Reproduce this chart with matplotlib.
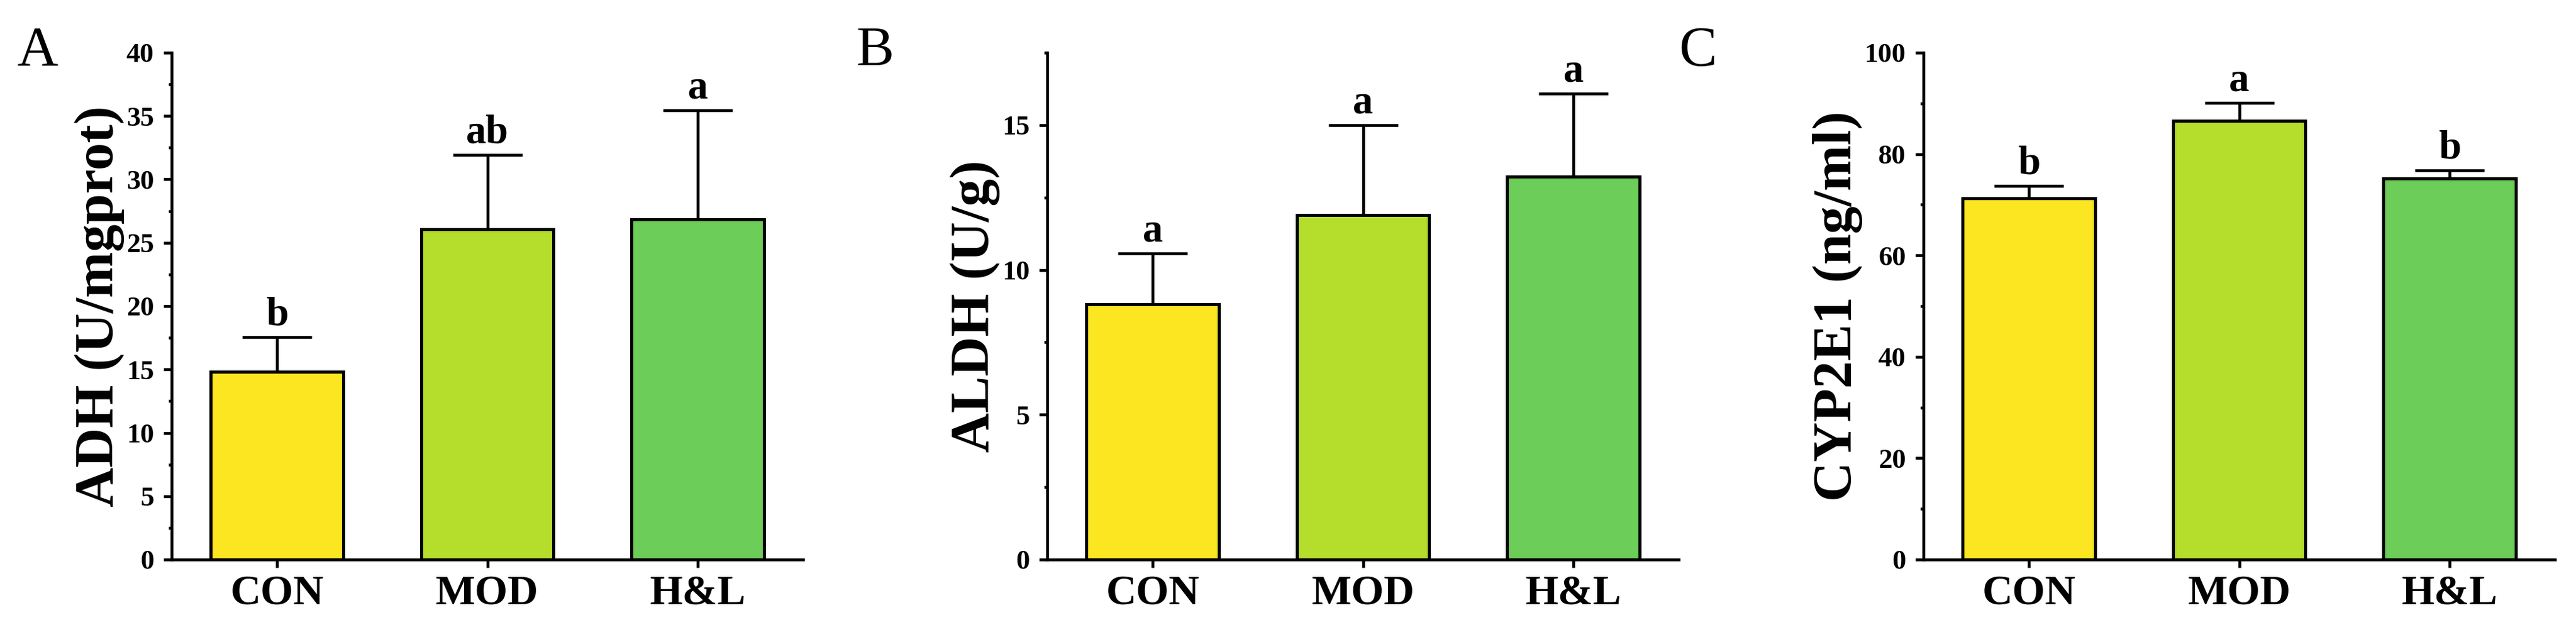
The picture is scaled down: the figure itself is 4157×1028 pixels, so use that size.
import numpy as np
import matplotlib
matplotlib.use("Agg")
import matplotlib.pyplot as plt
from matplotlib.ticker import MultipleLocator

plt.rcParams['font.family'] = ['Liberation Serif', 'DejaVu Serif']

groups = ["CON", "MOD", "H&L"]
colors = ["#FCE622", "#B4DE2B", "#6CCD59"]

# values (mean and upper error)
adh = [14.84, 26.06, 26.83]
adh_err = [2.72, 5.86, 8.62]
adh_sig = ["b", "ab", "a"]

aldh = [8.82, 11.90, 13.23]
aldh_err = [1.74, 3.09, 2.85]
aldh_sig = ["a", "a", "a"]

cyp = [71.3, 86.55, 75.2]
cyp_err = [2.45, 3.5, 1.55]
cyp_sig = ["b", "a", "b"]

panels = [
    ("A", adh, adh_err, adh_sig, "ADH (U/mgprot)", 40, 5, 2.5),
    ("B", aldh, aldh_err, aldh_sig, "ALDH (U/g)", 17.5, 5, 2.5),
    ("C", cyp, cyp_err, cyp_sig, "CYP2E1 (ng/ml)", 100, 20, 10),
]

W, H = 4157, 1028
fig = plt.figure(figsize=(W / 100, H / 100), dpi=100)

ax_left_px = [277, 1690, 3104]
ax_w_px = 1019
ax_top_px, ax_bot_px = 85, 903
letter_x_px = [27, 1381, 2709]

for k, (letter, vals, errs, sig, ylab, ymax, major, minor) in enumerate(panels):
    ax = fig.add_axes([ax_left_px[k] / W, 1 - ax_bot_px / H,
                       ax_w_px / W, (ax_bot_px - ax_top_px) / H])
    x = np.arange(len(groups))
    ax.errorbar(x, vals, yerr=[np.zeros(len(vals)), errs], fmt="none",
                ecolor="black", elinewidth=3.3, capsize=40, capthick=3.3, zorder=1)
    ax.bar(x, vals, width=0.63, color=colors, edgecolor="black", linewidth=3.6, zorder=2)
    for i in range(len(groups)):
        ax.annotate(sig[i], xy=(x[i], vals[i] + errs[i]), xytext=(0, 14),
                    textcoords="offset points", ha="center", va="baseline",
                    fontsize=47, fontweight="bold")

    ax.set_xlim(-0.5, 2.5)
    ax.set_ylim(0, ymax)
    ax.yaxis.set_major_locator(MultipleLocator(major))
    ax.yaxis.set_minor_locator(MultipleLocator(minor))
    ax.set_xticks(x)
    ax.set_xticklabels(groups, fontsize=49, fontweight="bold")
    for t in ax.get_yticklabels():
        t.set_fontsize(32)
        t.set_fontweight("bold")
    ax.set_ylabel(ylab, fontsize=64, fontweight="bold", labelpad=2)

    for s in ["top", "right"]:
        ax.spines[s].set_visible(False)
    for s in ["left", "bottom"]:
        ax.spines[s].set_linewidth(3.3)
    ax.tick_params(axis="y", which="major", length=9.5, width=3.3, pad=11)
    ax.tick_params(axis="y", which="minor", length=3.8, width=3.3)
    ax.tick_params(axis="x", which="major", length=9.5, width=3.3, pad=9)

    fig.text(letter_x_px[k] / W, 1 - 106 / H, letter, fontsize=66, va="baseline")

fig.savefig("out.png", dpi=100)
